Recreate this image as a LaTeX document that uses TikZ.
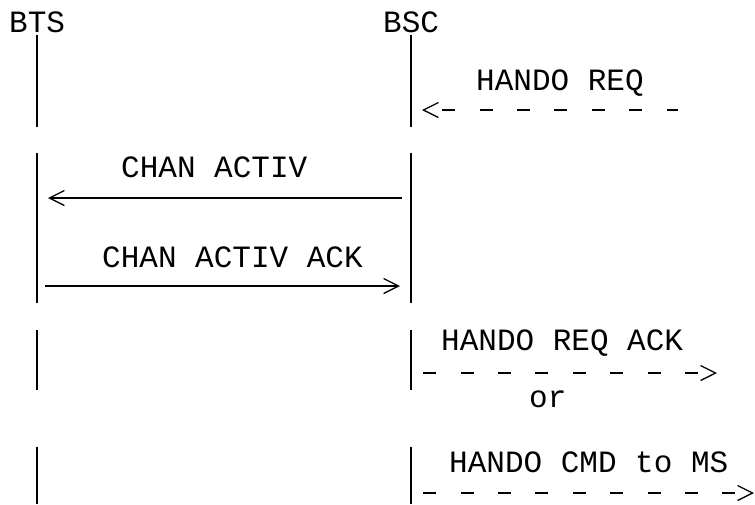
\documentclass[tikz,border=0pt]{standalone}
\usepackage{fontspec}
\setmainfont{Liberation Mono}
\usetikzlibrary{arrows.meta, positioning}

\begin{document}
\begin{tikzpicture}[
  x=1pt, y=-1pt,
  lifeline/.style={line width=1.7pt},
  msg/.style={line width=1.6pt},
  dashmsg/.style={line width=1.6pt, dash pattern=on 13pt off 24.4pt},
  barb/.tip={Straight Barb[length=15pt, width=15pt, line width=1.3pt]},
  lbl/.style={anchor=base west, inner sep=0pt,
    font=\fontsize{31}{36}\selectfont}
]
  \useasboundingbox (0,0) rectangle (755,504);

  % Entities
  \node[lbl] (bts) at (9,32) {BTS};
  \node[lbl] (bsc) at (383,32) {BSC};

  % Lifelines, broken into pieces
  \foreach \ya/\yb in {35/127, 153/303, 330/390, 447/504} {
    \draw[lifeline] (bts.south |- 0,\ya) -- (bts.south |- 0,\yb);
    \draw[lifeline] (bsc.south |- 0,\ya) -- (bsc.south |- 0,\yb);
  }

  % Handover request from MSC
  \node[lbl] (req) at (476,90) {HANDO REQ};
  \coordinate (req-in)  at (422,110);
  \coordinate (req-out) at (678,110);
  \draw[dashmsg, dash phase=19.4pt, barb-] (req-in) -- (req-out);

  % Channel activation
  \node[lbl] (act) at (121,177) {CHAN ACTIV};
  \coordinate (act-l) at (48,198);
  \coordinate (act-r) at (402,198);
  \draw[msg, -barb] (act-r) -- (act-l);

  \node[lbl] (ack) at (102,267) {CHAN ACTIV ACK};
  \coordinate (ack-l) at (45,286);
  \coordinate (ack-r) at (400,286);
  \draw[msg, -barb] (ack-l) -- (ack-r);

  % Answer towards MSC or MS
  \node[lbl] (reqack) at (441,350) {HANDO REQ ACK};
  \coordinate (reqack-in)  at (bsc.south |- 0,373);
  \coordinate (reqack-out) at (717,373);
  \draw[dashmsg, dash phase=25.4pt, -barb] (reqack-in) -- (reqack-out);

  \node[lbl] (alt) at (529,407) {or};

  \node[lbl] (cmd) at (449,472) {HANDO CMD to MS};
  \coordinate (cmd-in)  at (bsc.south |- 0,493);
  \coordinate (cmd-out) at (754,493);
  \draw[dashmsg, dash phase=25.4pt, -barb] (cmd-in) -- (cmd-out);
\end{tikzpicture}
\end{document}
